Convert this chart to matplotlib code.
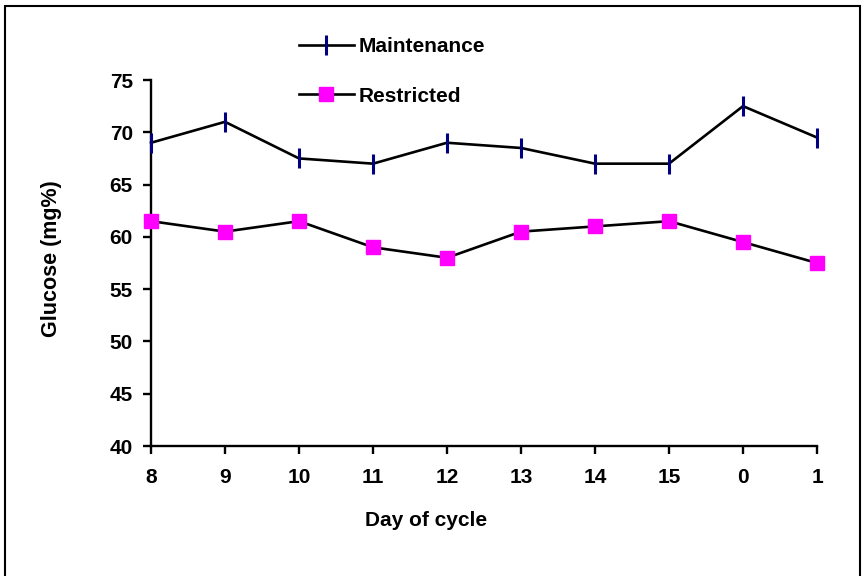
import matplotlib
matplotlib.use("Agg")
import matplotlib.pyplot as plt
from matplotlib.patches import Rectangle

days = ["8", "9", "10", "11", "12", "13", "14", "15", "0", "1"]
maintenance = [69, 71, 67.5, 67, 69, 68.5, 67, 67, 72.5, 69.5]
restricted = [61.5, 60.5, 61.5, 59, 58, 60.5, 61, 61.5, 59.5, 57.5]
yticks = [40, 45, 50, 55, 60, 65, 70, 75]

plt.rcParams['font.family'] = ['Liberation Sans', 'DejaVu Sans']
plt.rcParams['font.weight'] = 'bold'

fig = plt.figure(figsize=(8.63, 5.76), dpi=100)
ax = fig.add_axes([151/863, 1-446/576, (817-151)/863, (446-80)/576])

x = list(range(len(days)))
ax.plot(x, maintenance, color='black', lw=1.9, marker='|', markersize=14,
        markeredgewidth=2.2, markeredgecolor='#000080', label='Maintenance',
        clip_on=False, zorder=3)
ax.plot(x, restricted, color='black', lw=1.9, marker='s', markersize=10.5,
        markerfacecolor='#FF00FF', markeredgecolor='#FF00FF', label='Restricted',
        clip_on=False, zorder=3)

ax.set_xlim(0, len(days)-1)
ax.set_ylim(40, 75)
ax.set_xticks(x)
ax.set_xticklabels(days)
ax.set_yticks(yticks)
for s in ['top', 'right']:
    ax.spines[s].set_visible(False)
for s in ['left', 'bottom']:
    ax.spines[s].set_linewidth(1.7)
ax.tick_params(axis='both', direction='out', length=6, width=1.7, labelsize=15)
ax.tick_params(axis='x', pad=10)
ax.tick_params(axis='y', pad=7)
for lab in ax.get_xticklabels() + ax.get_yticklabels():
    lab.set_fontweight('bold')

ax.set_xlabel('Day of cycle', fontsize=15, fontweight='bold')
ax.set_ylabel('Glucose (mg%)', fontsize=15.5, fontweight='bold')
ax.xaxis.set_label_coords((426-151)/666, (446-511)/366)
ax.yaxis.set_label_coords((62-151)/666, (446-258.5)/366)

leg = ax.legend(loc='upper left', bbox_to_anchor=(291/863, 1-29/576),
                bbox_transform=fig.transFigure, frameon=False,
                fontsize=15, handlelength=2.6, labelspacing=1.45,
                handletextpad=0.25, borderaxespad=0)
for t in leg.get_texts():
    t.set_fontweight('bold')

fig.patches.append(Rectangle((5/863, -0.01), (860-5)/863, 1-6/576+0.01,
                             transform=fig.transFigure, fill=False,
                             edgecolor='black', lw=1.5))

fig.savefig('out.png', dpi=100)
